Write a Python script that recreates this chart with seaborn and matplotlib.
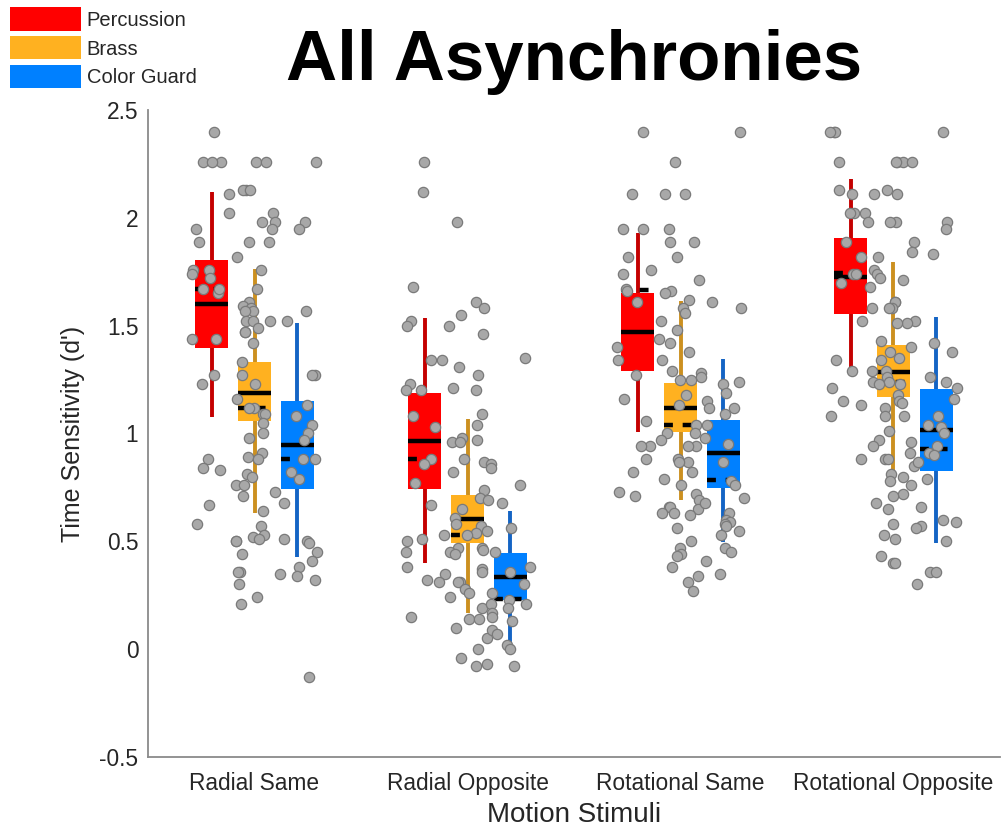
import numpy as np
import pandas as pd
import matplotlib
matplotlib.use("Agg")
import matplotlib.pyplot as plt
import seaborn as sns
from matplotlib.patches import Patch

# ---------------- data ----------------
stimuli = ["Radial Same", "Radial Opposite", "Rotational Same", "Rotational Opposite"]
groups = ["Percussion", "Brass", "Color Guard"]

# individual d' values (stimulus -> group)
rs_perc = [2.40, 2.26, 2.26, 2.26, 2.11, 2.02, 1.95, 1.89, 1.76, 1.76, 1.74, 1.72, 1.65, 1.67, 1.67,
           1.44, 1.44, 1.27, 1.23, 0.88, 0.84, 0.83, 0.67, 0.58]
rs_brass = [2.26, 2.26, 2.13, 2.13, 2.13, 2.02, 1.98, 1.98, 1.95, 1.89, 1.89, 1.82, 1.76, 1.67, 1.61,
            1.59, 1.58, 1.57, 1.57, 1.52, 1.52, 1.52, 1.49, 1.47, 1.47, 1.42, 1.33, 1.27, 1.23, 1.16,
            1.12, 1.12, 1.09, 1.09, 1.05, 1.00, 0.98, 0.91, 0.89, 0.88, 0.81, 0.80, 0.76, 0.76, 0.73,
            0.71, 0.64, 0.57, 0.53, 0.52, 0.51, 0.50, 0.50, 0.44, 0.36, 0.36, 0.30, 0.24, 0.21]
rs_cg = [2.26, 1.98, 1.95, 1.57, 1.52, 1.27, 1.27, 1.13, 1.08, 1.04, 1.00, 0.97, 0.88, 0.88, 0.82,
         0.79, 0.68, 0.51, 0.50, 0.49, 0.45, 0.41, 0.38, 0.35, 0.34, 0.32, -0.13]

ro_perc = [2.26, 2.12, 1.68, 1.52, 1.50, 1.34, 1.34, 1.23, 1.20, 1.20, 1.08, 1.03, 0.88, 0.86, 0.77,
           0.67, 0.53, 0.51, 0.50, 0.45, 0.38, 0.35, 0.32, 0.31, 0.15]
ro_brass = [1.98, 1.61, 1.58, 1.55, 1.50, 1.46, 1.31, 1.27, 1.21, 1.20, 1.09, 1.04, 0.98, 0.97, 0.96,
            0.96, 0.88, 0.87, 0.82, 0.74, 0.70, 0.69, 0.65, 0.61, 0.58, 0.57, 0.55, 0.54, 0.53, 0.47,
            0.47, 0.46, 0.45, 0.44, 0.37, 0.36, 0.31, 0.31, 0.28, 0.26, 0.24, 0.19, 0.14, 0.14, 0.10,
            0.05, 0.00, -0.04, -0.07, -0.08]
ro_cg = [1.35, 0.86, 0.84, 0.76, 0.68, 0.56, 0.45, 0.38, 0.36, 0.30, 0.26, 0.23, 0.21, 0.21, 0.19,
         0.17, 0.15, 0.13, 0.09, 0.07, 0.02, 0.00, -0.08]

ros_perc = [2.40, 2.11, 1.95, 1.95, 1.82, 1.76, 1.74, 1.67, 1.66, 1.61, 1.40, 1.34, 1.27, 1.16, 1.06,
            0.94, 0.94, 0.88, 0.82, 0.73, 0.71]
ros_brass = [2.26, 2.11, 2.11, 1.95, 1.89, 1.89, 1.82, 1.71, 1.66, 1.65, 1.62, 1.58, 1.56, 1.52, 1.48,
             1.44, 1.42, 1.38, 1.34, 1.29, 1.28, 1.26, 1.25, 1.25, 1.18, 1.13, 1.04, 1.00, 1.00, 0.97,
             0.94, 0.94, 0.88, 0.87, 0.87, 0.82, 0.79, 0.76, 0.72, 0.69, 0.66, 0.66, 0.65, 0.63, 0.63,
             0.62, 0.56, 0.50, 0.47, 0.44, 0.43, 0.38, 0.34, 0.31, 0.27]
ros_cg = [2.40, 1.61, 1.58, 1.24, 1.23, 1.19, 1.15, 1.12, 1.12, 1.09, 1.04, 0.98, 0.95, 0.87, 0.78,
          0.76, 0.70, 0.68, 0.63, 0.60, 0.59, 0.58, 0.57, 0.55, 0.53, 0.47, 0.45, 0.41, 0.35]

roo_perc = [2.40, 2.40, 2.40, 2.26, 2.13, 2.11, 2.02, 2.02, 2.02, 1.98, 1.89, 1.82, 1.74, 1.74, 1.70,
            1.68, 1.52, 1.34, 1.29, 1.29, 1.21, 1.15, 1.13, 1.08, 0.88]
roo_brass = [2.26, 2.26, 2.26, 2.26, 2.13, 2.11, 2.11, 1.98, 1.98, 1.89, 1.84, 1.82, 1.76, 1.74, 1.72,
             1.71, 1.61, 1.61, 1.58, 1.58, 1.58, 1.52, 1.51, 1.51, 1.43, 1.40, 1.38, 1.35, 1.34, 1.29,
             1.26, 1.24, 1.24, 1.23, 1.23, 1.18, 1.15, 1.14, 1.12, 1.08, 1.08, 1.01, 0.97, 0.96, 0.94,
             0.91, 0.88, 0.88, 0.85, 0.81, 0.80, 0.78, 0.76, 0.72, 0.71, 0.68, 0.65, 0.58, 0.53, 0.51,
             0.43, 0.40, 0.40]
roo_cg = [2.40, 1.98, 1.95, 1.83, 1.42, 1.38, 1.26, 1.24, 1.21, 1.16, 1.08, 1.04, 1.03, 1.00, 0.94,
          0.91, 0.90, 0.87, 0.79, 0.66, 0.60, 0.59, 0.57, 0.56, 0.50, 0.36, 0.36, 0.30]

points = {
    "Radial Same": [rs_perc, rs_brass, rs_cg],
    "Radial Opposite": [ro_perc, ro_brass, ro_cg],
    "Rotational Same": [ros_perc, ros_brass, ros_cg],
    "Rotational Opposite": [roo_perc, roo_brass, roo_cg],
}

# box summary values per group, across the four stimuli
q1 = {"Percussion": [1.395, 0.742, 1.289, 1.553],
      "Brass": [1.06, 0.49, 1.006, 1.168],
      "Color Guard": [0.742, 0.227, 0.746, 0.825]}
q3 = {"Percussion": [1.803, 1.187, 1.65, 1.905],
      "Brass": [1.33, 0.714, 1.233, 1.41],
      "Color Guard": [1.15, 0.445, 1.062, 1.205]}
median = {"Percussion": [1.60, 0.964, 1.47, 1.725],
          "Brass": [1.19, 0.603, 1.12, 1.284],
          "Color Guard": [0.946, 0.334, 0.908, 1.015]}
mean = {"Percussion": [1.669, 0.88, 1.664, 1.743],
        "Brass": [1.117, 0.528, 1.04, 1.24],
        "Color Guard": [0.88, 0.232, 0.783, 0.93]}
whisk_lo = {"Percussion": [1.076, 0.40, 1.006, 1.307],
            "Brass": [0.63, 0.167, 0.69, 0.774],
            "Color Guard": [0.427, 0.028, 0.496, 0.49]}
whisk_hi = {"Percussion": [2.12, 1.535, 1.93, 2.18],
            "Brass": [1.762, 1.066, 1.613, 1.794],
            "Color Guard": [1.51, 0.64, 1.345, 1.54]}

ytick_vals = [-0.5, 0, 0.5, 1, 1.5, 2, 2.5]
ytick_labels = ["-0.5", "0", "0.5", "1", "1.5", "2", "2.5"]

# ---------------- style ----------------
box_colors = ["#FF0000", "#FFB120", "#0080FF"]
whisker_colors = ["#C40000", "#CC9020", "#1464C4"]
offsets = [-0.2, 0.0, 0.2]
box_w = 0.155

sns.set_theme(style="white")
plt.rcParams["font.family"] = ["Liberation Sans", "DejaVu Sans"]

fig = plt.figure(figsize=(10.03, 8.33), dpi=100)
ax = fig.add_axes([0.1476, 0.0912, 0.8494, 0.7768])

base = np.arange(1, len(stimuli) + 1)
for gi, g in enumerate(groups):
    pos = base + offsets[gi]
    ax.vlines(pos, whisk_lo[g], whisk_hi[g], color=whisker_colors[gi], lw=2.8, zorder=1)
    lo = np.array(q1[g]); hi = np.array(q3[g])
    ax.bar(pos, hi - lo, bottom=lo, width=box_w, color=box_colors[gi], edgecolor="none", zorder=2)
    ax.hlines(median[g], pos - box_w / 2, pos + box_w / 2, color="black", lw=3.2, zorder=3)
    ax.hlines(mean[g], pos - box_w / 2, pos + box_w / 2, color="black", lw=3.2,
              linestyles=(0, (2.0, 2.2)), zorder=3)

rows = []
for si, s in enumerate(stimuli):
    for gi, g in enumerate(groups):
        for v in points[s][gi]:
            rows.append({"pos": round(si + 1 + offsets[gi], 3), "value": v, "group": g})
df = pd.DataFrame(rows)

np.random.seed(3)
sns.stripplot(data=df, x="pos", y="value", native_scale=True, orient="x", jitter=0.5,
              color="#A8A8A8", edgecolor="#7A7A7A", linewidth=0.9, size=7.4, zorder=5, ax=ax)

ax.set_xlim(0.5, 4.5)
ax.set_ylim(-0.5, 2.5)
ax.set_xticks(base)
ax.set_xticklabels(stimuli)
ax.set_yticks(ytick_vals)
ax.set_yticklabels(ytick_labels)

for side in ["top", "right"]:
    ax.spines[side].set_visible(False)
for side in ["left", "bottom"]:
    ax.spines[side].set_color("#8a8a8a")
    ax.spines[side].set_linewidth(1.3)

ax.tick_params(axis="both", direction="in", length=7, width=1.3, color="#8a8a8a",
               labelcolor="#262626", labelsize=16.4)
ax.tick_params(axis="y", pad=7)
ax.tick_params(axis="x", pad=11)

ax.set_xlabel("Motion Stimuli", fontsize=20, color="#262626", labelpad=5)
ax.set_ylabel("Time Sensitivity (d')", fontsize=18, color="#262626", labelpad=10)

ax.text(0.5, 1.046, "All Asynchronies", transform=ax.transAxes, ha="center", va="baseline",
        fontsize=51, fontweight="bold", color="black")

handles = [Patch(facecolor=c, edgecolor="none", label=g) for c, g in zip(box_colors, groups)]
fig.legend(handles=handles, loc="upper left", bbox_to_anchor=(0.01, 0.991), frameon=False,
           fontsize=14.5, handlelength=3.5, handleheight=1.4, handletextpad=0.3,
           labelspacing=0.27, borderaxespad=0, borderpad=0)

fig.savefig("out.png", dpi=100)
